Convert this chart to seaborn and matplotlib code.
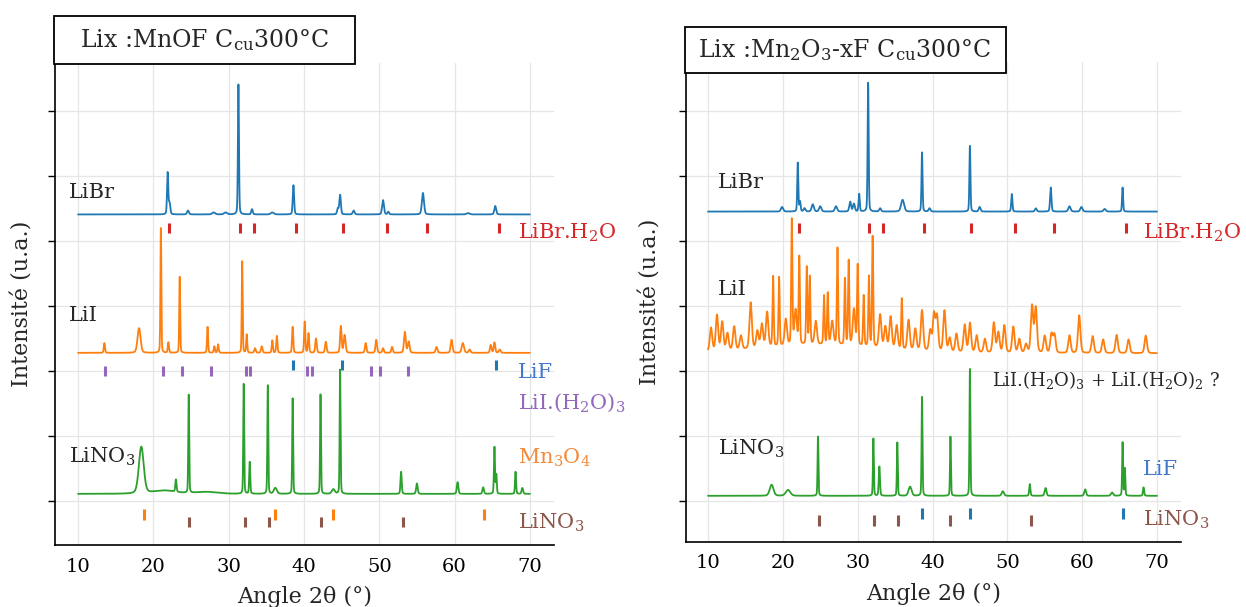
import numpy as np
import pandas as pd
import matplotlib
matplotlib.use('Agg')
import matplotlib.pyplot as plt
import seaborn as sns
from matplotlib.patches import Rectangle

# scan axis (2theta, degrees)
two_theta = np.arange(10, 70.001, 0.02)

# ---- left panel : Lix MnOF ----
mnof_libr_base = 4.41
mnof_libr_pos = [21.9, 22.15, 24.6, 28.0, 29.6, 31.3, 33.1, 35.8, 38.6, 44.5, 44.8, 46.6, 50.5, 51.2, 55.8, 61.8, 65.4]
mnof_libr_top = [5.05, 4.58, 4.47, 4.44, 4.44, 6.41, 4.49, 4.44, 4.86, 4.5, 4.71, 4.47, 4.63, 4.45, 4.74, 4.43, 4.54]
mnof_libr_wid = [0.08, 0.1, 0.12, 0.2, 0.2, 0.07, 0.1, 0.2, 0.09, 0.1, 0.1, 0.12, 0.12, 0.1, 0.14, 0.2, 0.12]

mnof_lii_base = 2.28
mnof_lii_pos = [13.5, 18.1, 21.0, 22.0, 23.5, 27.2, 28.1, 28.6, 31.8, 32.4, 33.5, 34.4, 35.8, 36.4, 38.5, 40.1,
                40.6, 41.6, 42.9, 44.9, 45.4, 48.2, 49.6, 50.5, 51.7, 53.4, 53.9, 57.6, 59.6, 61.1, 62.0, 64.8, 65.3, 66.0]
mnof_lii_top = [2.43, 2.66, 4.2, 2.44, 3.45, 2.68, 2.38, 2.41, 3.69, 2.56, 2.35, 2.38, 2.47, 2.54, 2.68, 2.76,
                2.58, 2.5, 2.45, 2.69, 2.55, 2.43, 2.48, 2.35, 2.37, 2.6, 2.45, 2.37, 2.48, 2.43, 2.33, 2.4, 2.44, 2.33]
mnof_lii_wid = [0.08, 0.2, 0.06, 0.08, 0.06, 0.07, 0.08, 0.08, 0.06, 0.07, 0.1, 0.1, 0.08, 0.08, 0.08, 0.08,
                0.08, 0.1, 0.1, 0.1, 0.12, 0.1, 0.1, 0.1, 0.1, 0.12, 0.12, 0.12, 0.12, 0.15, 0.12, 0.1, 0.1, 0.12]

mnof_lino3_base = 0.11
mnof_lino3_pos = [18.4, 21.5, 23.0, 24.7, 27.0, 32.0, 32.8, 35.2, 36.2, 38.5, 42.2, 43.9, 44.8, 52.9, 55.0,
                  60.4, 63.8, 65.3, 65.55, 68.1, 69.0]
mnof_lino3_top = [0.83, 0.16, 0.3, 1.62, 0.14, 1.8, 0.6, 1.78, 0.2, 1.58, 1.64, 0.18, 2.02, 0.45, 0.27,
                  0.29, 0.21, 0.83, 0.4, 0.45, 0.2]
mnof_lino3_wid = [0.32, 1.5, 0.08, 0.06, 1.5, 0.06, 0.07, 0.06, 0.2, 0.06, 0.06, 0.2, 0.06, 0.08, 0.1,
                  0.1, 0.1, 0.07, 0.06, 0.07, 0.1]

# ---- right panel : Lix Mn2O3-xF ----
mn2o3_libr_base = 4.45
mn2o3_libr_pos = [19.9, 22.0, 22.3, 22.9, 24.0, 25.0, 27.1, 29.0, 29.5, 30.2, 31.4, 33.0, 36.0, 38.6, 39.6,
                  45.0, 46.3, 50.6, 53.8, 55.8, 58.3, 59.9, 63.0, 65.4]
mn2o3_libr_top = [4.52, 5.2, 4.6, 4.5, 4.56, 4.53, 4.53, 4.6, 4.57, 4.72, 6.43, 4.5, 4.63, 5.36, 4.5,
                  5.46, 4.52, 4.72, 4.5, 4.82, 4.53, 4.52, 4.49, 4.82]
mn2o3_libr_wid = [0.15, 0.07, 0.08, 0.12, 0.15, 0.15, 0.15, 0.12, 0.12, 0.08, 0.07, 0.12, 0.2, 0.07, 0.12,
                  0.07, 0.12, 0.08, 0.12, 0.09, 0.15, 0.15, 0.15, 0.07]

mn2o3_lii_base = 2.27
mn2o3_lii_pos = [25.0, 10.4, 11.2, 11.9, 12.6, 13.5, 14.4, 15.7, 16.6, 17.2, 17.9, 18.7, 19.5, 20.4, 21.2, 21.7,
                 22.2, 23.2, 23.6, 24.4, 25.5, 26.0, 26.6, 27.3, 28.3, 28.8, 29.5, 30.0, 30.8, 31.5, 32.0,
                 33.0, 33.7, 34.4, 35.2, 35.9, 36.8, 37.7, 38.6, 39.7, 40.2, 40.6, 41.6, 42.3, 43.2, 44.3,
                 45.0, 45.9, 47.0, 48.2, 48.8, 49.6, 50.8, 51.6, 52.5, 53.3, 53.8, 55.0, 55.9, 56.3, 58.3,
                 59.6, 61.4, 62.8, 64.6, 66.2, 68.5]
mn2o3_lii_top = [2.4, 2.63, 2.82, 2.71, 2.53, 2.63, 2.48, 2.98, 2.53, 2.63, 2.81, 3.35, 3.33, 2.68, 4.2, 2.8,
                 3.62, 3.46, 3.31, 2.63, 3.02, 3.06, 2.63, 3.76, 3.29, 3.57, 2.83, 3.51, 3.05, 3.35, 3.97,
                 2.78, 2.6, 2.76, 2.63, 3.05, 2.73, 2.6, 2.89, 2.58, 2.83, 2.8, 2.9, 2.48, 2.55, 2.69,
                 2.72, 2.53, 2.48, 2.73, 2.58, 2.69, 2.67, 2.48, 2.4, 2.99, 2.96, 2.53, 2.56, 2.55, 2.54,
                 2.85, 2.53, 2.48, 2.55, 2.48, 2.54]
mn2o3_lii_wid = [8.0] + [0.08 if t > 3.0 else 0.16 for t in mn2o3_lii_top[1:]]

mn2o3_lino3_base = 0.08
mn2o3_lino3_pos = [18.5, 20.7, 24.7, 32.1, 32.9, 35.3, 37.0, 38.6, 42.4, 45.0, 49.4, 53.0, 55.1, 60.4, 64.0,
                   65.4, 65.7, 68.2]
mn2o3_lino3_top = [0.25, 0.17, 0.99, 0.96, 0.53, 0.9, 0.22, 1.6, 0.99, 2.03, 0.15, 0.26, 0.2, 0.18, 0.13,
                   0.9, 0.5, 0.21]
mn2o3_lino3_wid = [0.25, 0.3, 0.06, 0.06, 0.08, 0.06, 0.2, 0.06, 0.06, 0.06, 0.15, 0.08, 0.12, 0.12, 0.15,
                   0.06, 0.06, 0.08]

# ---- reference phase positions (tick markers) ----
libr_h2o_pos = [22.1, 31.5, 33.4, 38.9, 45.2, 51.0, 56.3, 65.9]
lii_h2o3_pos = [13.6, 21.3, 23.8, 27.7, 32.3, 32.8, 40.4, 41.1, 48.9, 50.1, 53.8]
lif_pos = [38.6, 45.0, 65.5]
mn3o4_pos = [18.7, 36.1, 43.8, 63.9]
lino3_pos = [24.8, 32.2, 35.4, 42.3, 53.1]


def pattern(base, pos, top, wid):
    y = np.full_like(two_theta, base)
    for p, t, w in zip(pos, top, wid):
        h = t - base
        g = np.exp(-0.5 * ((two_theta - p) / w) ** 2)
        l = 1.0 / (1.0 + ((two_theta - p) / (1.2 * w)) ** 2)
        y += h * (0.75 * g + 0.25 * l)
    return y


sns.set_theme(style='whitegrid')
plt.rcParams['font.family'] = ['DejaVu Serif']
plt.rcParams['mathtext.fontset'] = 'dejavuserif'
plt.rcParams['mathtext.default'] = 'regular'

blue, orange, green = '#1f77b4', '#ff7f0e', '#2ca02c'
red, purple, brown = '#d62728', '#9467bd', '#8c564b'

fig = plt.figure(figsize=(12.46, 6.07), dpi=100)
ax1 = fig.add_axes([0.0445, 0.1021, 0.4001, 0.7941])
ax2 = fig.add_axes([0.5502, 0.1071, 0.3976, 0.7908])

left = [(mnof_libr_base, mnof_libr_pos, mnof_libr_top, mnof_libr_wid, blue),
        (mnof_lii_base, mnof_lii_pos, mnof_lii_top, mnof_lii_wid, orange),
        (mnof_lino3_base, mnof_lino3_pos, mnof_lino3_top, mnof_lino3_wid, green)]
right = [(mn2o3_libr_base, mn2o3_libr_pos, mn2o3_libr_top, mn2o3_libr_wid, blue),
         (mn2o3_lii_base, mn2o3_lii_pos, mn2o3_lii_top, mn2o3_lii_wid, orange),
         (mn2o3_lino3_base, mn2o3_lino3_pos, mn2o3_lino3_top, mn2o3_lino3_wid, green)]

for ax, curves in [(ax1, left), (ax2, right)]:
    for base, pos, top, wid, col in curves:
        df = pd.DataFrame({'angle': two_theta, 'intensity': pattern(base, pos, top, wid)})
        sns.lineplot(data=df, x='angle', y='intensity', ax=ax, color=col, lw=1.3,
                     estimator=None, sort=False)

# phase markers
ax1.vlines(libr_h2o_pos, 4.12, 4.28, color=red, lw=2.2)
ax1.vlines(lii_h2o3_pos, 1.92, 2.08, color=purple, lw=2.2)
ax1.vlines(lif_pos, 2.02, 2.17, color=blue, lw=2.2)
ax1.vlines(mn3o4_pos, -0.29, -0.12, color=orange, lw=2.2)
ax1.vlines(lino3_pos, -0.40, -0.25, color=brown, lw=2.2)

ax2.vlines(libr_h2o_pos, 4.12, 4.28, color=red, lw=2.2)
ax2.vlines(lif_pos, -0.28, -0.11, color=blue, lw=2.2)
ax2.vlines(lino3_pos, -0.38, -0.22, color=brown, lw=2.2)

fs = 15
# sample labels
ax1.text(8.8, 4.75, 'LiBr', fontsize=fs, va='center')
ax1.text(8.8, 2.86, 'LiI', fontsize=fs, va='center')
ax1.text(8.8, 0.68, 'LiNO$_3$', fontsize=fs, va='center')
ax2.text(11.3, 4.89, 'LiBr', fontsize=fs, va='center')
ax2.text(11.3, 3.25, 'LiI', fontsize=fs, va='center')
ax2.text(11.3, 0.80, 'LiNO$_3$', fontsize=fs, va='center')

# phase labels
ax1.text(68.4, 4.12, 'LiBr.H$_2$O', fontsize=fs, va='center', color=red, clip_on=False)
ax1.text(68.4, 1.98, 'LiF', fontsize=fs, va='center', color='#4479c9', clip_on=False)
ax1.text(68.4, 1.51, 'LiI.(H$_2$O)$_3$', fontsize=fs, va='center', color=purple, clip_on=False)
ax1.text(68.4, 0.66, 'Mn$_3$O$_4$', fontsize=fs, va='center', color='#f5893a', clip_on=False)
ax1.text(68.4, -0.34, 'LiNO$_3$', fontsize=fs, va='center', color=brown, clip_on=False)

ax2.text(68.1, 4.12, 'LiBr.H$_2$O', fontsize=fs, va='center', color=red, clip_on=False)
ax2.text(48.0, 1.86, 'LiI.(H$_2$O)$_3$ + LiI.(H$_2$O)$_2$ ?', fontsize=13, va='center', clip_on=False)
ax2.text(68.1, 0.48, 'LiF', fontsize=fs, va='center', color='#4479c9', clip_on=False)
ax2.text(68.1, -0.29, 'LiNO$_3$', fontsize=fs, va='center', color=brown, clip_on=False)

for ax, ylim in [(ax1, (-0.677, 6.74)), (ax2, (-0.63, 6.75))]:
    ax.set_xlim(7.0, 73.2)
    ax.set_ylim(*ylim)
    ax.set_xticks([10, 20, 30, 40, 50, 60, 70])
    ax.set_yticks(range(7))
    ax.set_yticklabels([])
    ax.grid(True, color='#e6e6e6', lw=0.9)
    for s in ['top', 'right']:
        ax.spines[s].set_visible(False)
    for s in ['left', 'bottom']:
        ax.spines[s].set_color('black')
        ax.spines[s].set_linewidth(1.2)
    ax.tick_params(axis='x', length=0, pad=9, labelsize=14, colors='black')
    ax.tick_params(axis='y', left=True, length=5, width=1, direction='out', color='black')
    ax.set_xlabel('Angle 2θ (°)', fontsize=16)
    ax.set_ylabel('Intensité (u.a.)', fontsize=16)
    ax.xaxis.set_label_coords(0.5, -0.085)
ax1.yaxis.set_label_coords(-0.045, 0.5)
ax2.yaxis.set_label_coords(-0.048, 0.5)

# title boxes
fig.patches.append(Rectangle((0.0433, 0.8946), 0.2416, 0.0790, transform=fig.transFigure,
                             facecolor='white', edgecolor='black', lw=1.3, zorder=5))
fig.text(0.1645, 0.934, 'Lix :MnOF C$_{cu}$300°C', fontsize=17, ha='center', va='center', zorder=6)
fig.patches.append(Rectangle((0.5498, 0.8797), 0.2576, 0.0758, transform=fig.transFigure,
                             facecolor='white', edgecolor='black', lw=1.3, zorder=5))
fig.text(0.678, 0.9176, 'Lix :Mn$_2$O$_3$-xF C$_{cu}$300°C', fontsize=17, ha='center', va='center', zorder=6)

fig.savefig('out.png', dpi=100)
